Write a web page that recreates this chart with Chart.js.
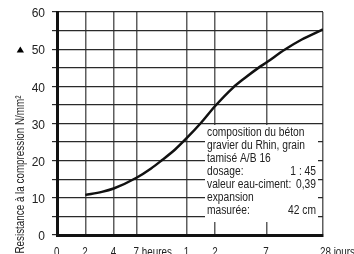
<!DOCTYPE html>
<html>
<head>
<meta charset="utf-8">
<script src="https://cdn.jsdelivr.net/npm/chart.js@4.4.1/dist/chart.umd.min.js"></script>
<style>
  html, body { margin: 0; padding: 0; background: #fff; }
  #wrap { width: 354px; height: 254px; position: relative; }
</style>
</head>
<body>
<div id="wrap"><canvas id="chart"></canvas></div>
<script>
// age in hours (log axis), compressive strength in N/mm²
const hours = [2, 3, 4, 7, 10, 13, 18, 24, 34, 48, 74, 100, 137, 168, 265, 400, 623, 672];
const strength = [10.8, 11.6, 12.5, 15.4, 17.9, 20.1, 23, 26.1, 30.2, 34.7, 39.6, 42.3, 44.9, 46.4, 49.9, 52.6, 54.9, 55.3];

const xTickValues = [1, 2, 4, 7, 24, 48, 168, 672];
const xTickLabels = ['0', '2', '4', '7 heures', '1', '2', '7', '28 jours'];

const yTitle = 'Resistance à la compression N/mm²';
const noteLines = [
  ['composition du béton', ''],
  ['gravier du Rhin, grain', ''],
  ['tamisé A/B 16', ''],
  ['dosage:', '1 : 45'],
  ['valeur eau-ciment:', '0,39'],
  ['expansion', ''],
  ['masurée:', '42 cm']
];

// no narrow face installed: squeeze Liberation Sans to the width of a narrow grotesque
const FONT = "'Liberation Sans', Arial, sans-serif";
const SQUEEZE = 0.82;
Chart.defaults.font.family = FONT;
Chart.defaults.color = '#222';

function narrowText(ctx, text, x, y, align) {
  ctx.save();
  ctx.translate(x, y);
  ctx.scale(SQUEEZE, 1);
  ctx.textAlign = align;
  ctx.fillText(text, 0, 0);
  ctx.restore();
}

const overlay = {
  id: 'overlay',
  beforeDatasetsDraw(chart) {
    const ctx = chart.ctx;
    ctx.save();
    // note box covering the grid
    ctx.fillStyle = '#fff';
    ctx.fillRect(205, 125, 113, 97);
    ctx.fillStyle = '#222';
    ctx.font = `12.5px ${FONT}`;
    ctx.textBaseline = 'middle';
    noteLines.forEach(([left, right], i) => {
      const y = 133 + i * 13;
      narrowText(ctx, left, 207, y, 'left');
      if (right) narrowText(ctx, right, 316, y, 'right');
    });
    ctx.restore();
  },
  afterDraw(chart) {
    const ctx = chart.ctx;
    const x = chart.scales.x;
    ctx.save();
    ctx.fillStyle = '#222';
    ctx.font = `12px ${FONT}`;
    ctx.textBaseline = 'alphabetic';
    // x tick labels, number sitting on its grid line
    xTickValues.forEach((v, i) => {
      narrowText(ctx, xTickLabels[i], x.getPixelForValue(v) - 3, 255.5, 'left');
    });
    // rotated y title
    ctx.translate(24, 174.5);
    ctx.rotate(-Math.PI / 2);
    narrowText(ctx, yTitle, 0, 0, 'center');
    ctx.restore();
    // arrow head above the title
    ctx.save();
    ctx.fillStyle = '#000';
    ctx.beginPath();
    ctx.moveTo(20.3, 46.5);
    ctx.lineTo(24, 52.5);
    ctx.lineTo(16.7, 52.5);
    ctx.closePath();
    ctx.fill();
    ctx.restore();
  }
};

new Chart(document.getElementById('chart'), {
  type: 'line',
  data: {
    datasets: [{
      data: hours.map((h, i) => ({ x: h, y: strength[i] })),
      borderColor: '#111',
      borderWidth: 2.5,
      pointRadius: 0,
      cubicInterpolationMode: 'monotone',
      fill: false
    }]
  },
  options: {
    responsive: true,
    maintainAspectRatio: false,
    animation: false,
    layout: { padding: { top: 12, right: 31, left: 0, bottom: 0 } },
    plugins: { legend: { display: false }, tooltip: { enabled: false } },
    scales: {
      x: {
        type: 'logarithmic',
        min: 1,
        max: 672,
        afterBuildTicks(scale) { scale.ticks = xTickValues.map((value) => ({ value })); },
        afterFit(scale) { scale.height = 19; scale.paddingLeft = 0; scale.paddingRight = 0; },
        ticks: { display: false },
        grid: { color: '#5e5e5e', lineWidth: 1.5, drawTicks: false },
        border: { color: '#111', width: 3 }
      },
      y: {
        min: 0,
        max: 60,
        afterFit(scale) { scale.width = 57; scale.paddingTop = 0; scale.paddingBottom = 0; },
        ticks: {
          stepSize: 5,
          callback: (value) => value % 10 === 0 ? String(value) : '',
          labelOffset: 2,
          padding: 7,
          font: { size: 12 },
          color: '#222'
        },
        grid: { color: '#2a2a2a', lineWidth: 1.2, tickLength: 5 },
        border: { color: '#111', width: 3 }
      }
    }
  },
  plugins: [overlay]
});
</script>
</body>
</html>
